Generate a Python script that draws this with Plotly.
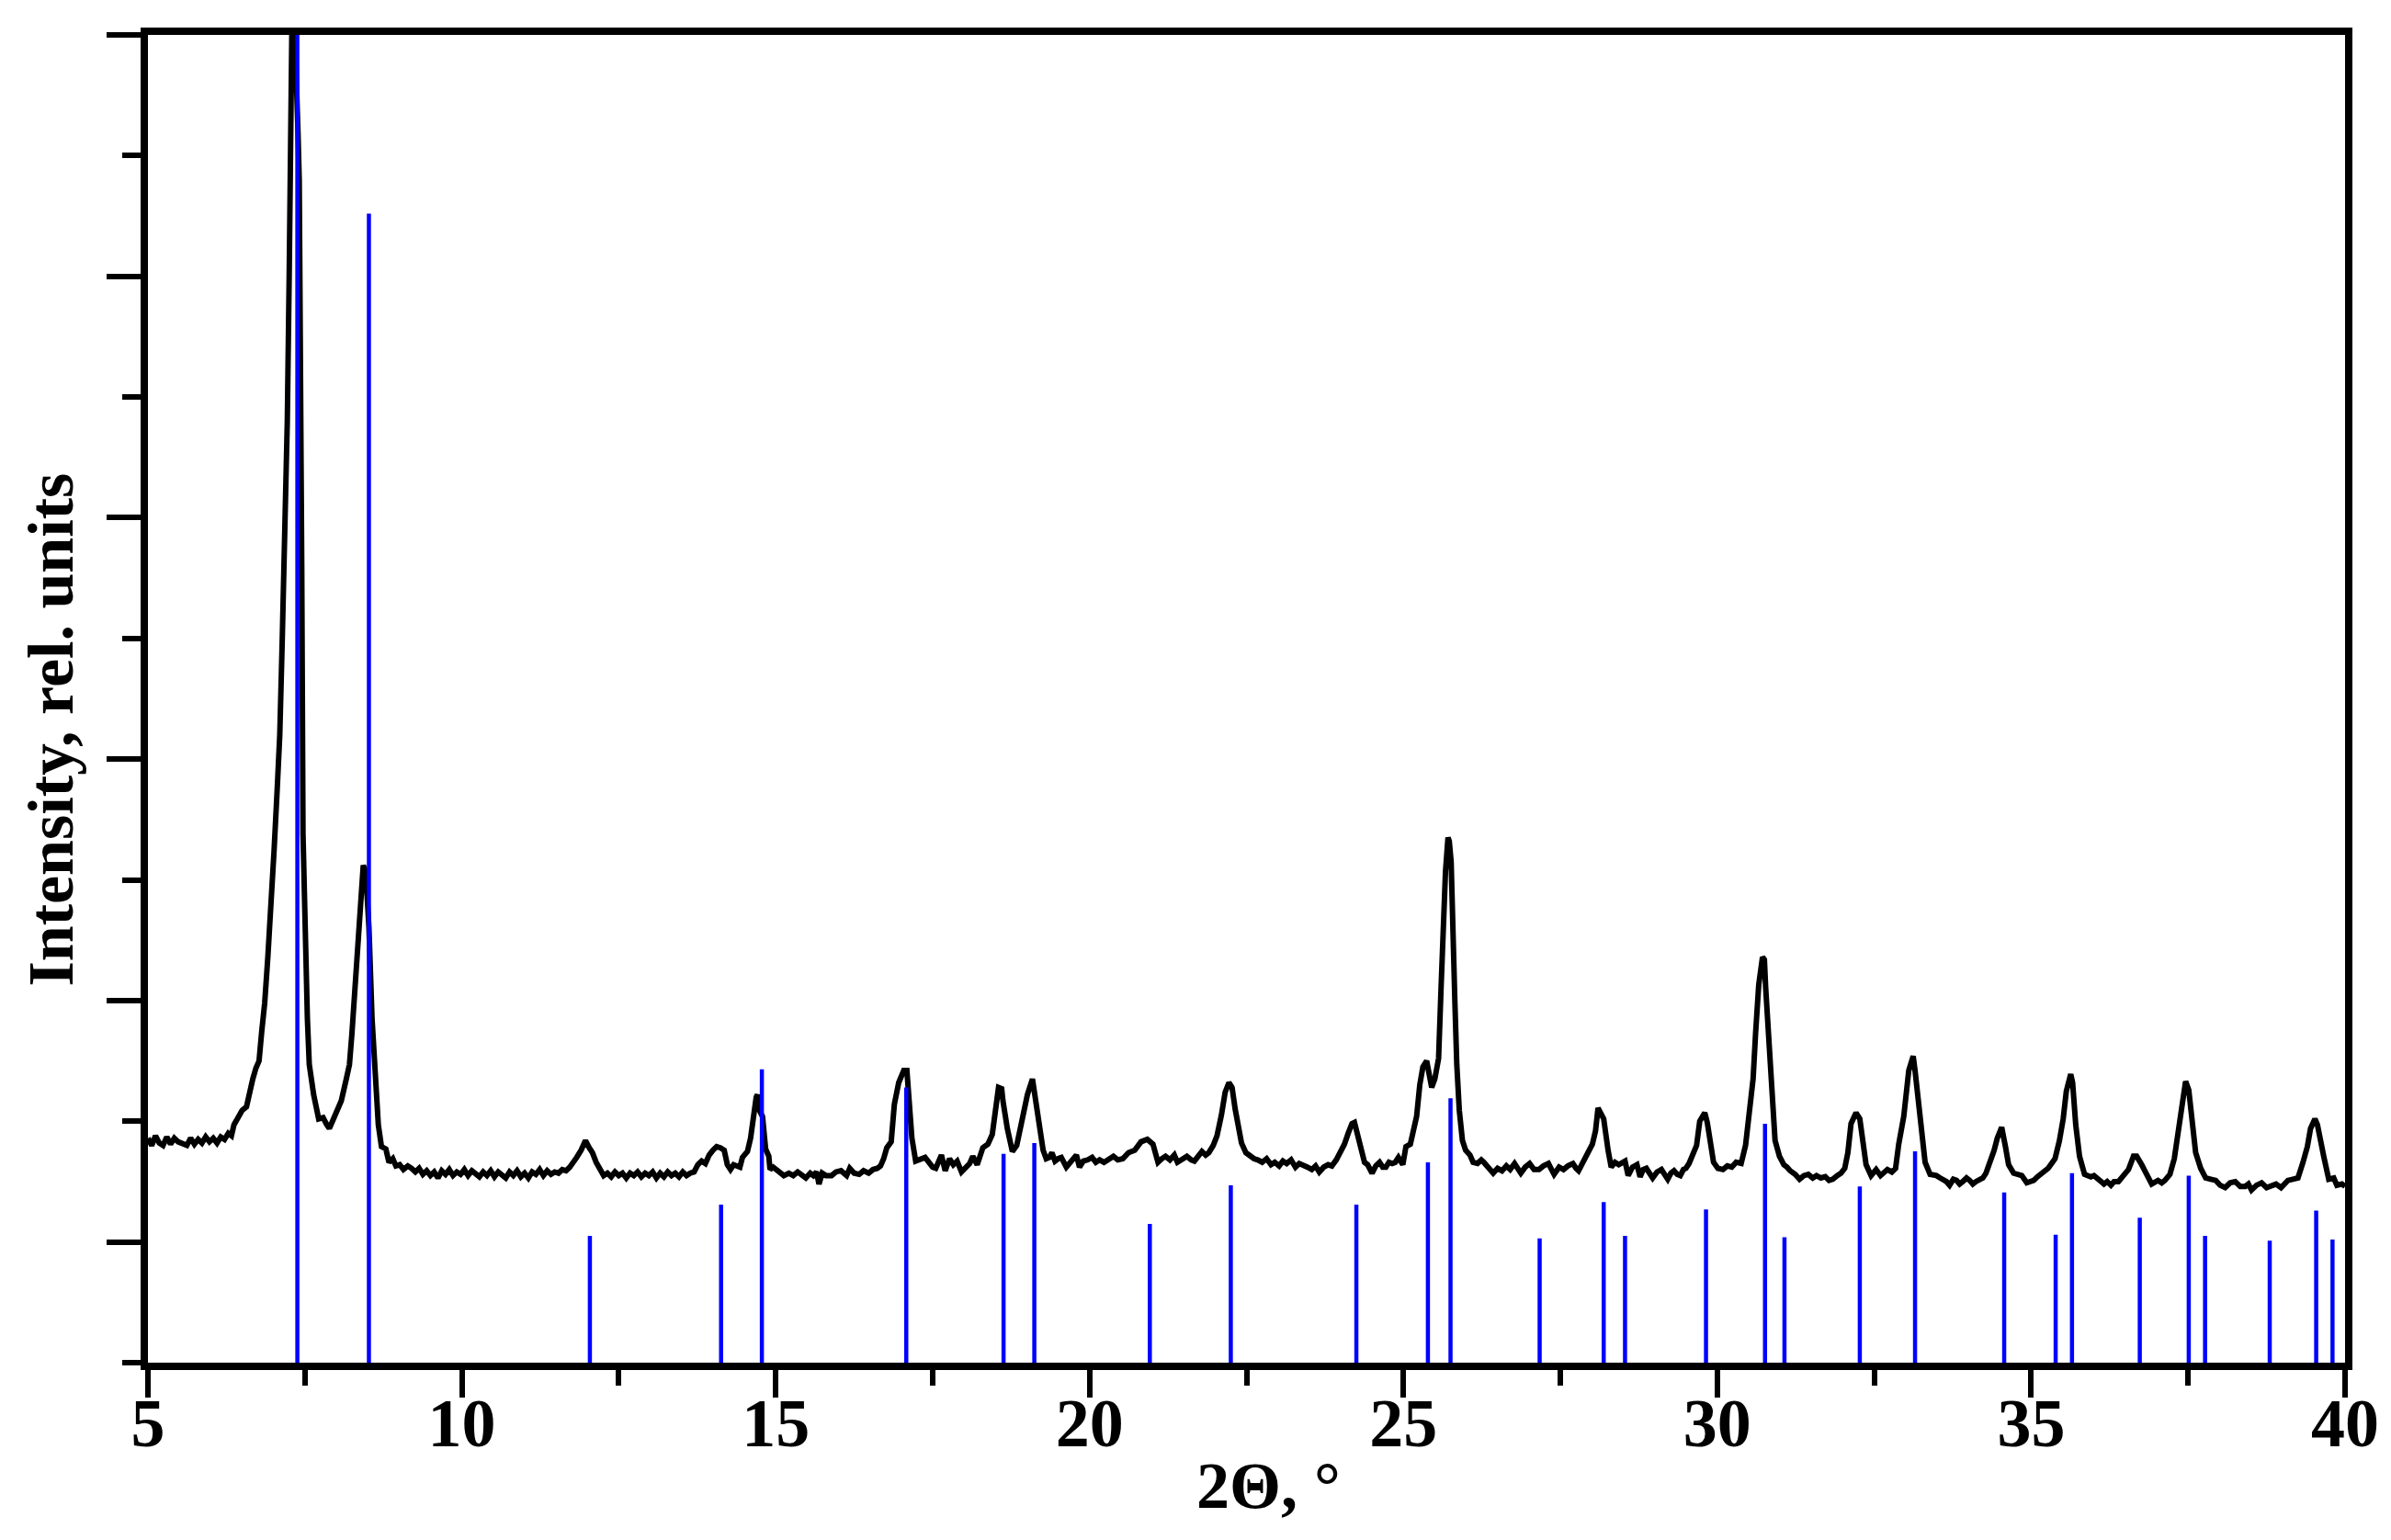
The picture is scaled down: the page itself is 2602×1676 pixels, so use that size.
import plotly.graph_objects as go

# measured XRD pattern (2theta, deg) and intensity in relative units
two_theta = [
    5.00, 5.06, 5.12, 5.18, 5.24, 5.30, 5.36, 5.42, 5.48, 5.55, 5.62, 5.68, 5.74, 5.80, 5.86, 5.92,
    5.98, 6.04, 6.10, 6.16, 6.22, 6.28, 6.33, 6.37, 6.43, 6.50, 6.57, 6.62, 6.67, 6.72, 6.77, 6.81,
    6.86, 6.91, 6.96, 7.01, 7.06, 7.10, 7.14, 7.18, 7.22, 7.25, 7.27, 7.30, 7.33, 7.36, 7.39, 7.41,
    7.43, 7.45, 7.47, 7.50, 7.54, 7.57, 7.64, 7.72, 7.79, 7.85, 7.89, 7.94, 7.99, 8.08, 8.16, 8.21,
    8.25, 8.30, 8.35, 8.40, 8.43, 8.47, 8.52, 8.57, 8.62, 8.67, 8.72, 8.79, 8.84, 8.90, 8.95, 9.01,
    9.07, 9.14, 9.20, 9.26, 9.32, 9.38, 9.44, 9.50, 9.56, 9.62, 9.68, 9.74, 9.80, 9.86, 9.92, 9.98,
    10.04, 10.10, 10.16, 10.22, 10.28, 10.34, 10.40, 10.46, 10.52, 10.58, 10.64, 10.70, 10.76, 10.82,
    10.88, 10.94, 11.00, 11.06, 11.12, 11.18, 11.24, 11.30, 11.36, 11.42, 11.48, 11.54, 11.60, 11.66,
    11.72, 11.78, 11.83, 11.90, 11.97, 12.03, 12.08, 12.14, 12.21, 12.26, 12.32, 12.38, 12.44, 12.50,
    12.56, 12.62, 12.68, 12.74, 12.80, 12.86, 12.92, 12.98, 13.04, 13.10, 13.16, 13.22, 13.28, 13.34,
    13.40, 13.46, 13.52, 13.58, 13.64, 13.70, 13.76, 13.82, 13.88, 13.94, 14.00, 14.06, 14.12, 14.18,
    14.23, 14.28, 14.33, 14.38, 14.43, 14.47, 14.55, 14.60, 14.65, 14.69, 14.71, 14.74, 14.79, 14.84,
    14.89, 14.91, 14.96, 15.01, 15.07, 15.13, 15.21, 15.28, 15.35, 15.42, 15.48, 15.55, 15.60, 15.65,
    15.69, 15.74, 15.80, 15.89, 15.96, 16.04, 16.09, 16.13, 16.18, 16.25, 16.33, 16.40, 16.48, 16.55,
    16.62, 16.67, 16.72, 16.77, 16.84, 16.89, 16.96, 17.04, 17.09, 17.13, 17.17, 17.23, 17.30, 17.38,
    17.44, 17.50, 17.55, 17.60, 17.64, 17.70, 17.77, 17.83, 17.89, 17.96, 18.03, 18.09, 18.14, 18.21,
    18.30, 18.38, 18.45, 18.50, 18.55, 18.60, 18.62, 18.69, 18.77, 18.84, 18.94, 19.01, 19.09, 19.13,
    19.21, 19.26, 19.31, 19.36, 19.40, 19.45, 19.50, 19.55, 19.63, 19.70, 19.79, 19.84, 19.90, 19.97,
    20.04, 20.10, 20.16, 20.23, 20.30, 20.38, 20.45, 20.53, 20.62, 20.72, 20.82, 20.92, 21.01, 21.09,
    21.15, 21.21, 21.28, 21.35, 21.40, 21.48, 21.55, 21.62, 21.67, 21.73, 21.79, 21.85, 21.90, 21.97,
    22.03, 22.10, 22.16, 22.22, 22.27, 22.32, 22.36, 22.42, 22.49, 22.55, 22.62, 22.68, 22.75, 22.82,
    22.89, 22.95, 23.02, 23.08, 23.14, 23.21, 23.28, 23.34, 23.40, 23.47, 23.54, 23.60, 23.66, 23.73,
    23.80, 23.86, 23.93, 24.00, 24.06, 24.12, 24.18, 24.22, 24.27, 24.32, 24.38, 24.43, 24.50, 24.56,
    24.62, 24.67, 24.72, 24.77, 24.82, 24.87, 24.92, 24.99, 25.04, 25.11, 25.16, 25.21, 25.26, 25.31,
    25.37, 25.40, 25.45, 25.50, 25.56, 25.60, 25.64, 25.67, 25.71, 25.73, 25.76, 25.78, 25.82, 25.85,
    25.89, 25.94, 25.99, 26.06, 26.11, 26.18, 26.24, 26.28, 26.35, 26.43, 26.50, 26.57, 26.64, 26.70,
    26.77, 26.82, 26.87, 26.94, 27.01, 27.08, 27.16, 27.23, 27.31, 27.36, 27.40, 27.48, 27.55, 27.62,
    27.70, 27.75, 27.79, 27.86, 27.92, 28.01, 28.06, 28.10, 28.14, 28.19, 28.26, 28.31, 28.37, 28.43,
    28.53, 28.58, 28.65, 28.72, 28.77, 28.82, 28.87, 28.92, 28.97, 29.04, 29.11, 29.16, 29.21, 29.26,
    29.31, 29.36, 29.41, 29.46, 29.50, 29.55, 29.60, 29.67, 29.72, 29.78, 29.80, 29.84, 29.89, 29.94,
    30.01, 30.09, 30.16, 30.23, 30.30, 30.38, 30.45, 30.50, 30.57, 30.61, 30.66, 30.72, 30.75, 30.77,
    30.82, 30.87, 30.92, 30.99, 31.06, 31.11, 31.16, 31.24, 31.31, 31.38, 31.45, 31.52, 31.58, 31.65,
    31.72, 31.78, 31.84, 31.91, 31.97, 32.03, 32.08, 32.13, 32.21, 32.27, 32.32, 32.37, 32.45, 32.53,
    32.60, 32.66, 32.71, 32.78, 32.84, 32.89, 32.97, 33.05, 33.12, 33.15, 33.21, 33.26, 33.31, 33.39,
    33.49, 33.55, 33.60, 33.65, 33.70, 33.76, 33.81, 33.86, 33.91, 33.97, 34.02, 34.07, 34.12, 34.18,
    34.23, 34.28, 34.33, 34.41, 34.46, 34.53, 34.59, 34.64, 34.72, 34.79, 34.85, 34.93, 35.04, 35.10,
    35.17, 35.27, 35.38, 35.45, 35.51, 35.56, 35.63, 35.66, 35.71, 35.77, 35.85, 35.95, 36.00, 36.06,
    36.11, 36.16, 36.21, 36.27, 36.32, 36.39, 36.47, 36.55, 36.63, 36.68, 36.76, 36.84, 36.92, 37.02,
    37.08, 37.13, 37.21, 37.28, 37.33, 37.39, 37.46, 37.51, 37.57, 37.62, 37.70, 37.78, 37.86, 37.94,
    38.01, 38.09, 38.17, 38.25, 38.33, 38.41, 38.46, 38.51, 38.59, 38.67, 38.75, 38.83, 38.90, 38.98,
    39.04, 39.09, 39.17, 39.25, 39.33, 39.40, 39.45, 39.52, 39.56, 39.61, 39.66, 39.74, 39.82, 39.87,
    39.95, 40.00,
]
intensity = [
    1.86, 1.80, 1.88, 1.82, 1.80, 1.87, 1.81, 1.86, 1.83, 1.82, 1.80, 1.86, 1.81, 1.85, 1.82, 1.87,
    1.83, 1.86, 1.82, 1.87, 1.85, 1.90, 1.88, 1.97, 2.02, 2.09, 2.12, 2.25, 2.35, 2.44, 2.50, 2.73,
    2.98, 3.36, 3.74, 4.25, 4.76, 5.20, 6.00, 6.90, 7.80, 9.00, 10.20, 11.40, 11.20, 10.80, 10.20, 9.80,
    8.60, 6.60, 4.38, 3.61, 2.85, 2.47, 2.22, 2.02, 2.03, 1.97, 1.94, 2.00, 2.06, 2.17, 2.35, 2.47,
    2.73, 3.11, 3.61, 4.00, 4.12, 4.07, 3.61, 2.85, 2.35, 1.97, 1.79, 1.77, 1.66, 1.69, 1.63, 1.64,
    1.60, 1.63, 1.61, 1.58, 1.61, 1.56, 1.59, 1.55, 1.58, 1.53, 1.59, 1.56, 1.60, 1.55, 1.58, 1.56,
    1.60, 1.55, 1.59, 1.57, 1.54, 1.58, 1.55, 1.59, 1.54, 1.58, 1.56, 1.53, 1.58, 1.55,
    1.59, 1.54, 1.57, 1.53, 1.58, 1.56, 1.60, 1.55, 1.59, 1.56, 1.58, 1.57, 1.60, 1.59,
    1.62, 1.66, 1.70, 1.76, 1.84, 1.78, 1.74, 1.66, 1.58, 1.55, 1.57, 1.54, 1.58, 1.55,
    1.57, 1.53, 1.57, 1.55, 1.58, 1.54, 1.57, 1.55, 1.58, 1.53, 1.57, 1.54, 1.58, 1.55,
    1.57, 1.54, 1.58, 1.55, 1.57, 1.58, 1.64, 1.67, 1.65, 1.72, 1.76, 1.79, 1.78, 1.76,
    1.64, 1.60, 1.64, 1.63, 1.62, 1.70, 1.75, 1.86, 2.07, 2.20, 2.22, 2.09, 2.04, 1.77,
    1.71, 1.60, 1.62, 1.60, 1.57, 1.55, 1.57, 1.55, 1.58, 1.56, 1.53, 1.57, 1.55, 1.58,
    1.48, 1.57, 1.55, 1.55, 1.58, 1.59, 1.56, 1.55, 1.61, 1.57, 1.56, 1.59, 1.57, 1.60,
    1.61, 1.63, 1.69, 1.78, 1.83, 2.14, 2.32, 2.42, 2.42, 2.17, 1.86, 1.67, 1.68, 1.70,
    1.66, 1.62, 1.61, 1.66, 1.72, 1.59, 1.69, 1.64, 1.67, 1.58, 1.62, 1.65, 1.71, 1.64,
    1.78, 1.81, 1.89, 2.12, 2.28, 2.27, 2.17, 1.94, 1.75, 1.80, 2.08, 2.22, 2.35, 2.22,
    1.99, 1.76, 1.69, 1.70, 1.74, 1.67, 1.69, 1.70, 1.62, 1.67, 1.72, 1.62, 1.67, 1.68,
    1.70, 1.66, 1.68, 1.66, 1.69, 1.71, 1.68, 1.69, 1.74, 1.76, 1.83, 1.85, 1.81, 1.66,
    1.69, 1.71, 1.68, 1.72, 1.66, 1.69, 1.71, 1.68, 1.67, 1.71, 1.75, 1.72, 1.74, 1.80,
    1.88, 2.05, 2.24, 2.32, 2.28, 2.10, 2.00, 1.82, 1.74, 1.71, 1.69, 1.68, 1.66, 1.69,
    1.64, 1.66, 1.63, 1.67, 1.65, 1.68, 1.62, 1.65, 1.63, 1.62, 1.60, 1.63, 1.58, 1.62,
    1.64, 1.63, 1.68, 1.74, 1.81, 1.90, 1.98, 1.99, 1.88, 1.76, 1.66, 1.64, 1.57, 1.63,
    1.66, 1.62, 1.62, 1.66, 1.65, 1.66, 1.70, 1.64, 1.79, 1.81, 1.92, 2.04, 2.30, 2.45,
    2.50, 2.42, 2.28, 2.35, 2.52, 3.11, 3.74, 4.07, 4.35, 4.32, 4.15, 3.61, 2.98, 2.47,
    2.09, 1.84, 1.76, 1.72, 1.66, 1.65, 1.68, 1.66, 1.62, 1.57, 1.61, 1.59, 1.63, 1.60,
    1.65, 1.61, 1.57, 1.62, 1.65, 1.60, 1.60, 1.63, 1.65, 1.60, 1.56, 1.62, 1.60, 1.63,
    1.65, 1.61, 1.59, 1.66, 1.72, 1.81, 1.92, 2.11, 2.07, 2.02, 1.76, 1.62, 1.66, 1.64,
    1.67, 1.55, 1.62, 1.64, 1.54, 1.60, 1.61, 1.56, 1.53, 1.58, 1.60, 1.56, 1.52, 1.57,
    1.59, 1.56, 1.55, 1.60, 1.61, 1.65, 1.71, 1.80, 2.00, 2.07, 2.07, 1.99, 1.81, 1.66,
    1.61, 1.60, 1.63, 1.62, 1.66, 1.65, 1.80, 2.02, 2.35, 2.73, 3.13, 3.36, 3.34, 3.11,
    2.65, 2.17, 1.84, 1.71, 1.64, 1.62, 1.59, 1.56, 1.52, 1.55, 1.56, 1.53, 1.55, 1.53,
    1.54, 1.51, 1.52, 1.55, 1.57, 1.61, 1.74, 1.98, 2.07, 2.02, 1.81, 1.64, 1.55, 1.60,
    1.55, 1.58, 1.60, 1.58, 1.61, 1.81, 2.04, 2.42, 2.54, 2.42, 2.12, 1.81, 1.66, 1.56,
    1.55, 1.53, 1.52, 1.50, 1.47, 1.52, 1.51, 1.48, 1.50, 1.53, 1.51, 1.48, 1.50, 1.52,
    1.53, 1.57, 1.64, 1.76, 1.86, 1.95, 1.79, 1.64, 1.57, 1.56, 1.55, 1.49, 1.51, 1.54,
    1.57, 1.61, 1.69, 1.84, 2.02, 2.25, 2.39, 2.32, 1.97, 1.71, 1.56, 1.54, 1.55, 1.52,
    1.51, 1.48, 1.50, 1.47, 1.50, 1.50, 1.55, 1.60, 1.71, 1.71, 1.64, 1.55, 1.48, 1.51,
    1.49, 1.51, 1.56, 1.69, 1.86, 2.09, 2.33, 2.26, 1.97, 1.74, 1.61, 1.53, 1.52, 1.51,
    1.47, 1.45, 1.49, 1.50, 1.46, 1.46, 1.48, 1.43, 1.47, 1.49, 1.45, 1.46, 1.48, 1.45,
    1.49, 1.51, 1.52, 1.53, 1.66, 1.79, 1.94, 2.02, 1.97, 1.81, 1.71, 1.52, 1.53, 1.47,
    1.48, 1.46,
]

# reference (database) reflections
ref_pos = [7.38, 8.52, 12.04, 14.13, 14.78, 17.08, 18.63, 19.12, 20.96, 22.25, 24.25, 25.39,
           25.75, 27.17, 28.19, 28.53, 29.82, 30.76, 31.07, 32.27, 33.15, 34.57, 35.39, 35.65,
           36.73, 37.51, 37.77, 38.80, 39.54, 39.80]
ref_int = [11.0, 9.52, 1.05, 1.31, 2.43, 2.28, 1.73, 1.82, 1.15, 1.47, 1.31, 1.66,
           2.19, 1.03, 1.33, 1.05, 1.27, 1.98, 1.04, 1.46, 1.75, 1.41, 1.06, 1.57,
           1.20, 1.55, 1.05, 1.01, 1.26, 1.02]

FONT = "Liberation Serif, Times New Roman, serif"

stick_x, stick_y = [], []
for p, h in zip(ref_pos, ref_int):
    stick_x += [p, p, None]
    stick_y += [0, h, None]

fig = go.Figure()

fig.add_trace(go.Scatter(
    x=two_theta, y=intensity, mode="lines",
    line=dict(color="black", width=6),
    showlegend=False,
))

fig.add_trace(go.Scatter(
    x=stick_x, y=stick_y, mode="lines",
    line=dict(color="#0000ff", width=4.5),
    showlegend=False,
))

fig.update_layout(
    width=2602, height=1676,
    margin=dict(l=153, r=58, t=30, b=201),
    plot_bgcolor="white", paper_bgcolor="white",
    font=dict(family=FONT, size=72, color="black", weight="bold"),
    annotations=[
        dict(text="2Θ, °", xref="paper", yref="paper", x=0.51, y=-0.093,
             xanchor="center", yanchor="middle", showarrow=False,
             font=dict(family=FONT, size=72, weight="bold")),
        dict(text="Intensity, rel. units", xref="paper", yref="paper", x=-0.044, y=0.477,
             xanchor="center", yanchor="middle", textangle=-90, showarrow=False,
             font=dict(family=FONT, size=70, weight="bold")),
    ],
)

fig.update_xaxes(
    range=[5, 40], tick0=5, dtick=5,
    showline=True, linewidth=8, linecolor="black", mirror=True,
    ticks="outside", ticklen=30, tickwidth=6, tickcolor="black",
    minor=dict(ticks="outside", ticklen=17, tickwidth=6, tickcolor="black", dtick=2.5, tick0=5),
    showgrid=False, zeroline=False,
    ticklabelstandoff=-36,
    tickfont=dict(family=FONT, size=74, weight="bold"),
)

fig.update_yaxes(
    range=[0, 11], tick0=1, dtick=2,
    showline=True, linewidth=8, linecolor="black", mirror=True,
    ticks="outside", ticklen=37, tickwidth=6, tickcolor="black",
    minor=dict(ticks="outside", ticklen=20, tickwidth=6, tickcolor="black", dtick=1, tick0=0),
    showticklabels=False, showgrid=False, zeroline=False,
)

fig.write_html("out.html")
